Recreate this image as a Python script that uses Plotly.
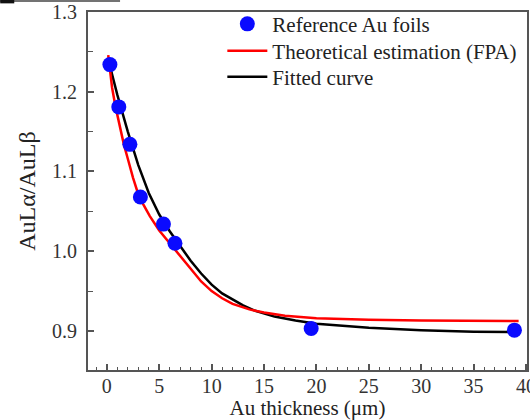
import plotly.graph_objects as go

# Measured reference foils
foil_thickness = [0.29, 1.14, 2.2, 3.2, 5.4, 6.5, 19.5, 38.9]
foil_ratio = [1.234, 1.181, 1.134, 1.068, 1.034, 1.010, 0.903, 0.901]

# Theoretical estimation (FPA)
fpa_thickness = [0.13, 0.5, 0.83, 1.2, 1.62, 2.0, 2.5, 3.08, 4.1, 5.0, 6.0, 7.0, 8.0, 9.0,
                 10.0, 11.0, 12.0, 13.6, 15.0, 17.0, 20.0, 25.0, 30.0, 35.0, 39.3]
fpa_ratio = [1.246, 1.205, 1.181, 1.158, 1.134, 1.116, 1.092, 1.068, 1.044, 1.026, 1.010,
             0.995, 0.978, 0.962, 0.950, 0.941, 0.934, 0.927, 0.923, 0.919, 0.916, 0.914,
             0.913, 0.9125, 0.9125]

# Fitted curve
fit_thickness = [0.3, 1.0, 2.0, 3.0, 4.0, 5.0, 6.0, 7.0, 8.0, 9.0, 10.0, 11.0, 12.0, 13.0,
                 14.0, 16.0, 18.0, 20.0, 25.0, 30.0, 35.0, 39.3]
fit_ratio = [1.232, 1.196, 1.150, 1.108, 1.073, 1.046, 1.025, 1.006, 0.988, 0.972, 0.958,
             0.947, 0.939, 0.932, 0.926, 0.918, 0.913, 0.909, 0.904, 0.901, 0.899, 0.8985]

x_ticks = [0, 5, 10, 15, 20, 25, 30, 35, 40]
y_ticks = [0.9, 1.0, 1.1, 1.2, 1.3]

FONT = "Liberation Serif, Times New Roman, serif"
AXIS_COLOR = "#555555"
FS = 20
LEG_FONT = dict(family=FONT, size=21, color="#222222")

fig = go.Figure()
fig.add_trace(go.Scatter(
    x=fit_thickness, y=fit_ratio, mode="lines", name="Fitted curve",
    line=dict(color="black", width=2.5), legend="legend3",
))
fig.add_trace(go.Scatter(
    x=fpa_thickness, y=fpa_ratio, mode="lines", name="Theoretical estimation (FPA)",
    line=dict(color="#ff0000", width=2.5), legend="legend2",
))
fig.add_trace(go.Scatter(
    x=foil_thickness, y=foil_ratio, mode="markers", name="Reference Au foils",
    marker=dict(color="#0a0aff", size=15, line=dict(width=0)), legend="legend",
))

def leg(yc):
    return dict(x=0.306, y=yc, xanchor="left", yanchor="middle",
                bgcolor="rgba(0,0,0,0)", font=LEG_FONT, itemwidth=40)

fig.update_layout(
    width=530, height=420,
    margin=dict(l=88, r=3, t=12, b=50, autoexpand=False),
    paper_bgcolor="white", plot_bgcolor="white",
    font=dict(family=FONT, size=FS, color="#333333"),
    showlegend=True,
    legend=leg(0.966),
    legend2=leg(0.891),
    legend3=leg(0.818),
    shapes=[
        dict(type="line", xref="paper", yref="paper", x0=-0.2, x1=0.073,
             y0=1.031, y1=1.031, line=dict(color="#444444", width=1.5)),
        dict(type="line", xref="paper", yref="paper", x0=-0.2, x1=-0.168,
             y0=1.029, y1=1.029, line=dict(color="#111111", width=3.5)),
    ],
)
fig.update_xaxes(
    range=[-1.8, 40.1], tickvals=x_ticks, ticktext=[str(v) for v in x_ticks],
    showgrid=False, zeroline=False, showline=True, linecolor=AXIS_COLOR, linewidth=2,
    mirror=True, ticks="inside", ticklen=6, tickwidth=1.5, tickcolor=AXIS_COLOR,
    minor=dict(dtick=1, ticks="inside", ticklen=3, tickwidth=1.2, tickcolor=AXIS_COLOR),
    title=dict(text="Au thickness (μm)", font=dict(family=FONT, size=21, color="#222222"), standoff=5),
    tickfont=dict(family=FONT, size=FS, color="#333333"),
    ticklabeloverflow="allow", automargin=False, ticklabelstandoff=-3,
)
fig.update_yaxes(
    range=[0.851, 1.3], tickvals=y_ticks, ticktext=[f"{v:.1f}" for v in y_ticks],
    showgrid=False, zeroline=False, showline=True, linecolor=AXIS_COLOR, linewidth=2,
    mirror=True, ticks="inside", ticklen=6, tickwidth=1.5, tickcolor=AXIS_COLOR,
    minor=dict(dtick=0.05, ticks="inside", ticklen=5, tickwidth=1.2, tickcolor=AXIS_COLOR),
    title=dict(text="AuLα/AuLβ", font=dict(family=FONT, size=24, color="#222222"), standoff=10),
    tickfont=dict(family=FONT, size=FS, color="#333333"),
    ticklabeloverflow="allow", automargin=False, ticklabelstandoff=5,
)

fig.write_html("out.html", post_script="document.body.style.margin='0';",
               config={"displayModeBar": False})
